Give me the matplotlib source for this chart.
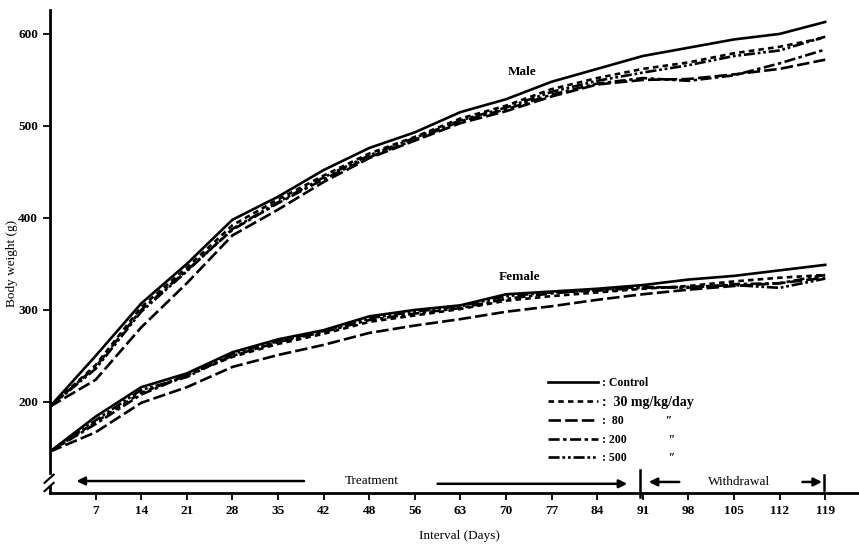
import matplotlib
matplotlib.use('Agg')
import matplotlib.pyplot as plt

plt.rcParams['font.family'] = ['Liberation Serif', 'DejaVu Serif']
plt.rcParams['lines.scale_dashes'] = False

# Данные
days = ['', '7', '14', '21', '28', '35', '42', '48', '56', '63', '70', '77', '84',
        '91', '98', '105', '112', '119']
pos = list(range(len(days)))

doses = ['Control', '30', '80', '200', '500']
dose_labels = [': Control', ':  30 mg/kg/day', ':  80              \u2033',
               ': 200              \u2033', ': 500              \u2033']

male_control = [195, 250, 307, 350, 398, 423, 452, 476, 493, 515, 529, 548, 562, 576, 585, 594, 600, 613]
male_30 = [195, 240, 303, 346, 392, 420, 446, 470, 488, 508, 522, 540, 552, 562, 569, 579, 586, 596]
male_80 = [195, 224, 281, 329, 381, 409, 439, 465, 484, 503, 516, 532, 545, 550, 551, 556, 562, 572]
male_200 = [195, 238, 300, 343, 387, 416, 442, 466, 485, 505, 518, 534, 546, 552, 549, 555, 568, 583]
male_500 = [195, 236, 298, 342, 388, 417, 444, 468, 487, 506, 520, 537, 549, 558, 566, 576, 582, 597]

female_control = [146, 184, 216, 231, 254, 268, 278, 293, 300, 305, 317, 320, 323, 327, 333, 337, 343, 349]
female_30 = [146, 178, 210, 229, 249, 263, 274, 287, 294, 301, 310, 315, 319, 323, 326, 331, 335, 338]
female_80 = [146, 167, 199, 216, 238, 251, 262, 275, 283, 290, 298, 304, 311, 317, 322, 326, 329, 335]
female_200 = [146, 176, 208, 229, 250, 265, 276, 289, 296, 302, 312, 318, 322, 325, 324, 328, 329, 338]
female_500 = [146, 180, 213, 227, 252, 266, 277, 291, 298, 304, 315, 319, 321, 324, 325, 327, 324, 334]

male = [male_control, male_30, male_80, male_200, male_500]
female = [female_control, female_30, female_80, female_200, female_500]

styles = ['-', (0, (4, 3)), (0, (9, 3)), (0, (8, 2.5, 2.5, 2.5)),
          (0, (8, 2, 2, 2, 2, 2))]

W, H = 859, 545
fig = plt.figure(figsize=(W / 100, H / 100), dpi=100)
ax = fig.add_axes([50 / W, 52 / H, (W - 50) / W, (493 - 10) / H])

handles = []
for m, f, ls, lab in zip(male, female, styles, dose_labels):
    h, = ax.plot(pos, m, color='black', lw=1.9, ls=ls, label=lab)
    ax.plot(pos, f, color='black', lw=1.9, ls=ls)
    handles.append(h)

ax.set_xlim(0, (W - 50) / 45.6)
ax.set_ylim(101, 626)

ax.spines['top'].set_visible(False)
ax.spines['right'].set_visible(False)
ax.spines['left'].set_linewidth(2)
ax.spines['bottom'].set_linewidth(2)
ax.spines['left'].set_bounds(123, 626)

ax.set_xticks(pos[1:])
ax.set_xticklabels(days[1:])
ax.set_yticks([200, 300, 400, 500, 600])
ax.tick_params(axis='both', direction='out', length=5, width=1.3,
               labelsize=9.5)
for t in ax.get_xticklabels() + ax.get_yticklabels():
    t.set_fontweight('bold')

# разрыв оси
ax.plot([0, 0], [101, 108], color='black', lw=2, clip_on=False)
ax.plot([-0.12, 0.08], [112, 121], color='black', lw=1.5, clip_on=False)
ax.plot([-0.12, 0.08], [103, 112], color='black', lw=1.5, clip_on=False)

ax.text(10.35, 559, 'Male', ha='center', va='center', fontsize=9.5, fontweight='bold')
ax.text(10.3, 336, 'Female', ha='center', va='center', fontsize=9.5, fontweight='bold')

# Treatment / Withdrawal
arr = dict(arrowstyle='-|>', color='black', lw=1.8, mutation_scale=12, shrinkA=0, shrinkB=0)
ax.annotate('', xy=(0.58, 114), xytext=(5.57, 114), arrowprops=arr, annotation_clip=False)
ax.annotate('', xy=(12.66, 111), xytext=(8.5, 111), arrowprops=arr, annotation_clip=False)
ax.text(7.05, 114.5, 'Treatment', ha='center', va='center', fontsize=9.5)
ax.plot([12.94, 12.94], [97, 126], color='black', lw=1.8, clip_on=False)
ax.annotate('', xy=(13.13, 113), xytext=(13.8, 113), arrowprops=arr, annotation_clip=False)
ax.text(15.1, 113, 'Withdrawal', ha='center', va='center', fontsize=9.5)
ax.annotate('', xy=(16.93, 113), xytext=(16.5, 113), arrowprops=arr, annotation_clip=False)
ax.plot([16.97, 16.97], [104, 121], color='black', lw=1.8, clip_on=False)

ax.set_xlabel('Interval (Days)', fontsize=9.5)
ax.xaxis.set_label_coords((459 - 50) / (W - 50), -(530 - 493) / (493 - 10))
ax.set_ylabel('Body weight (g)', fontsize=9.5)
ax.yaxis.set_label_coords(-(50 - 18) / (W - 50), (493 - 263) / (493 - 10))

leg = ax.legend(handles=handles, loc='upper left', frameon=False,
                bbox_to_anchor=(548 / W, (H - 377) / H), bbox_transform=fig.transFigure,
                fontsize=8.5, handlelength=4.2, handletextpad=0.4,
                labelspacing=0.56, borderpad=0, borderaxespad=0)
for t in leg.get_texts():
    t.set_fontweight('bold')
leg.get_texts()[1].set_fontsize(10)

fig.savefig('out.png', dpi=100)
